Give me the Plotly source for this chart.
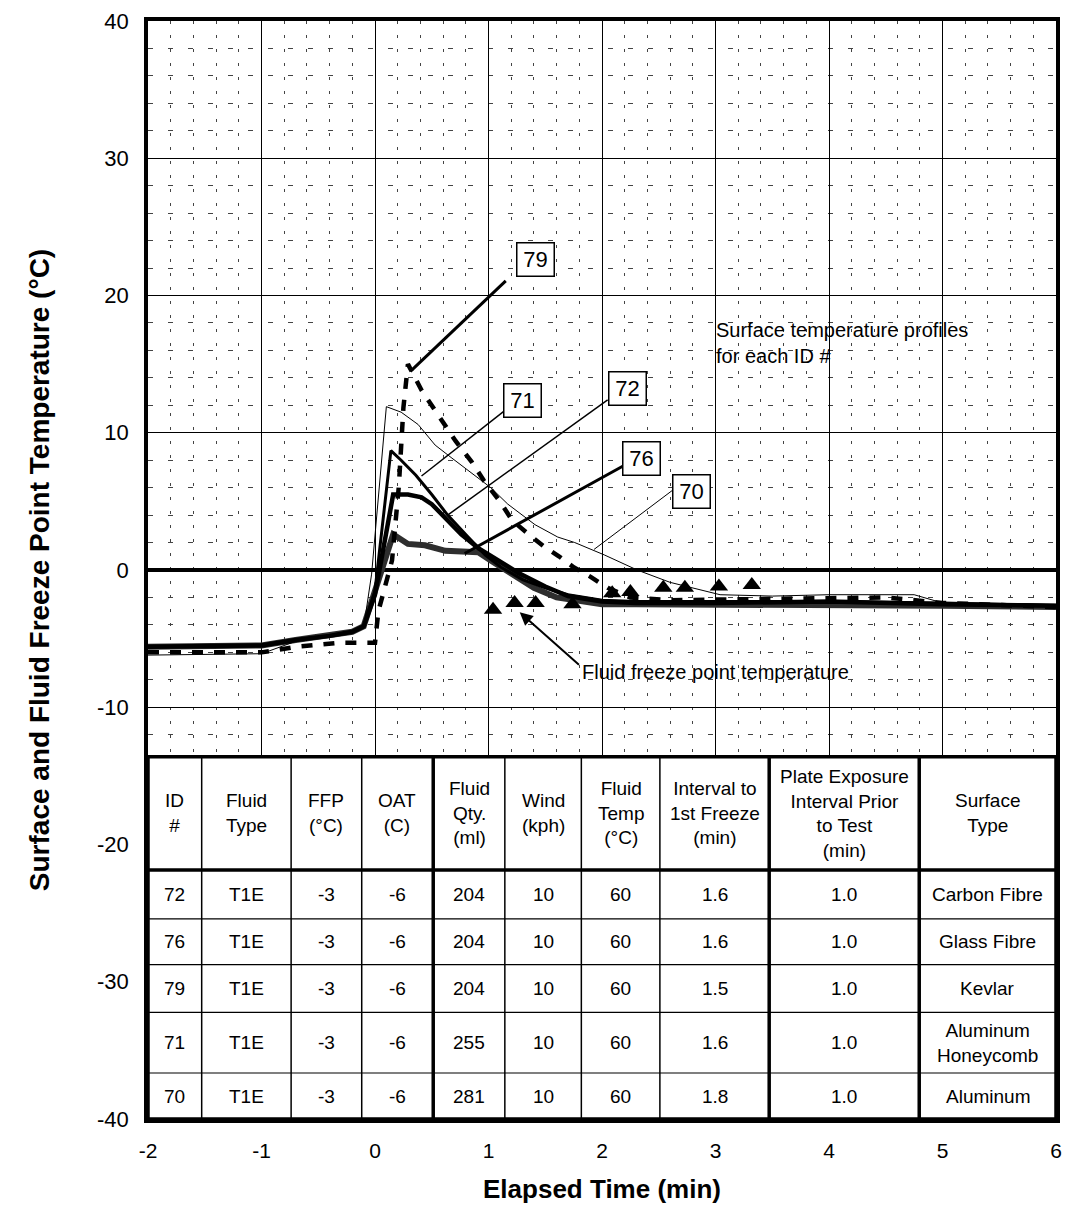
import plotly.graph_objects as go

# Surface temperature profiles (elapsed time in min, temperature in °C)
x76 = [-2, -1.0, -0.7, -0.4, -0.2, -0.1, 0.02, 0.16, 0.29, 0.44, 0.62, 0.79, 0.91, 1.02, 1.2, 1.4, 1.6, 1.8, 2.0, 2.3, 3.0, 4.0, 5.0, 6.0]
y76 = [-5.6, -5.5, -5.1, -4.8, -4.5, -4.1, -1.0, 2.6, 1.9, 1.8, 1.4, 1.3, 1.3, 0.7, -0.3, -1.3, -2.0, -2.3, -2.5, -2.5, -2.5, -2.6, -2.6, -2.7]

x72 = [-2, -1.0, -0.7, -0.4, -0.2, -0.1, 0.0, 0.16, 0.29, 0.41, 0.5, 0.62, 0.76, 0.91, 1.08, 1.26, 1.5, 1.7, 2.0, 2.3, 3.0, 4.0, 5.0, 6.0]
y72 = [-5.6, -5.5, -5.1, -4.8, -4.5, -4.1, -1.8, 5.5, 5.5, 5.3, 4.8, 3.8, 2.6, 1.6, 0.7, -0.2, -1.2, -1.9, -2.3, -2.4, -2.4, -2.3, -2.5, -2.6]

x71 = [-2, -1.0, -0.7, -0.4, -0.2, -0.1, 0.0, 0.14, 0.23, 0.36, 0.5, 0.64, 0.82, 0.97, 1.11, 1.3, 1.5, 1.7, 2.0, 2.3, 3.0, 4.0, 5.0, 6.0]
y71 = [-5.6, -5.5, -5.1, -4.8, -4.5, -4.1, -1.5, 8.7, 8.0, 6.9, 5.5, 4.0, 2.4, 1.1, 0.2, -0.7, -1.3, -1.8, -2.2, -2.3, -2.3, -2.3, -2.4, -2.6]

x70 = [-2, -1.0, -0.7, -0.4, -0.2, -0.1, -0.03, 0.1, 0.23, 0.38, 0.53, 0.67, 0.85, 1.02, 1.17, 1.41, 1.61, 1.76, 2.02, 2.31, 2.6, 2.89, 3.04, 3.5, 4.0, 4.75, 5.0, 6.0]
y70 = [-6.2, -6.1, -5.2, -4.8, -4.5, -4.2, -0.3, 11.9, 11.5, 10.6, 9.1, 8.2, 7.1, 6.0, 4.8, 3.3, 2.4, 2.0, 1.1, 0.0, -0.9, -1.5, -1.8, -1.9, -1.8, -1.8, -2.4, -2.5]

x79 = [-2, -1.0, -0.7, -0.3, 0.0, 0.03, 0.15, 0.21, 0.25, 0.29, 0.41, 0.56, 0.71, 0.85, 0.96, 1.1, 1.21, 1.34, 1.49, 1.62, 1.75, 1.9, 2.05, 2.25, 2.6, 3.5, 4.5, 5.0, 6.0]
y79 = [-6.0, -6.0, -5.6, -5.3, -5.3, -3.0, 0.7, 6.1, 11.8, 15.0, 13.1, 11.2, 9.4, 7.9, 6.5, 5.0, 3.6, 2.7, 1.7, 1.0, 0.2, -0.5, -1.3, -2.0, -2.2, -2.1, -2.0, -2.4, -2.7]

# Fluid freeze point temperature
x_ffp = [1.04, 1.23, 1.415, 1.74, 2.09, 2.25, 2.54, 2.73, 3.03, 3.32]
y_ffp = [-2.9, -2.4, -2.4, -2.5, -1.7, -1.6, -1.3, -1.3, -1.2, -1.1]

# Axis ticks
x_ticks = [-2, -1, 0, 1, 2, 3, 4, 5, 6]
y_ticks = [-40, -30, -20, -10, 0, 10, 20, 30, 40]

# Table
headers = ["ID<br>#", "Fluid<br>Type", "FFP<br>(°C)", "OAT<br>(C)", "Fluid<br>Qty.<br>(ml)", "Wind<br>(kph)",
           "Fluid<br>Temp<br>(°C)", "Interval to<br>1st Freeze<br>(min)",
           "Plate Exposure<br>Interval Prior<br>to Test<br>(min)", "Surface<br>Type"]
ids = ["72", "76", "79", "71", "70"]
fluid_type = ["T1E", "T1E", "T1E", "T1E", "T1E"]
ffp = [-3, -3, -3, -3, -3]
oat = [-6, -6, -6, -6, -6]
qty = [204, 204, 204, 255, 281]
wind = [10, 10, 10, 10, 10]
fluid_temp = [60, 60, 60, 60, 60]
interval = [1.6, 1.6, 1.5, 1.6, 1.8]
exposure = [1.0, 1.0, 1.0, 1.0, 1.0]
surface = ["Carbon Fibre", "Glass Fibre", "Kevlar", "Aluminum<br>Honeycomb", "Aluminum"]

# table geometry (data coordinates)
col_x = [-2, -1.527, -0.739, -0.117, 0.513, 1.144, 1.818, 2.51, 3.473, 4.795, 6.0]
thick_cols = [4, 8, 9]
row_y = [-13.6, -21.86, -25.42, -28.75, -32.23, -36.65, -40]

FONT = "Liberation Sans, Arial, sans-serif"

fig = go.Figure()
fig.add_trace(go.Scatter(x=x76, y=y76, mode="lines", line=dict(color="#2e2e2e", width=6)))
fig.add_trace(go.Scatter(x=x72, y=y72, mode="lines", line=dict(color="black", width=4.5)))
fig.add_trace(go.Scatter(x=x71, y=y71, mode="lines", line=dict(color="black", width=3)))
fig.add_trace(go.Scatter(x=x70, y=y70, mode="lines", line=dict(color="black", width=1)))
fig.add_trace(go.Scatter(x=x79, y=y79, mode="lines", line=dict(color="black", width=4.5, dash="11px,11px")))
fig.add_trace(go.Scatter(x=x_ffp, y=y_ffp, mode="markers",
                         marker=dict(symbol="triangle-up", size=16, color="black")))

# ID labels with leader lines
labels = ["79", "71", "72", "76", "70"]
label_pos = [(1.415, 22.6), (1.301, 12.36), (2.221, 13.23), (2.352, 8.09), (2.79, 5.69)]
leaders = [((1.152, 21.07), (0.312, 14.47), 3),
           ((1.14, 11.6), (0.41, 6.85), 1.5),
           ((2.05, 12.4), (0.64, 4.0), 1.5),
           ((2.19, 7.6), (0.79, 1.2), 3),
           ((2.62, 5.8), (1.93, 1.5), 1)]

shapes = []
for (p0, p1, w) in leaders:
    shapes.append(dict(type="line", xref="x", yref="y", x0=p0[0], y0=p0[1], x1=p1[0], y1=p1[1],
                       line=dict(color="black", width=w)))

annotations = []
for lab, (lx, ly) in zip(labels, label_pos):
    annotations.append(dict(x=lx, y=ly, xref="x", yref="y", text=lab, showarrow=False,
                            font=dict(size=22, family=FONT), bgcolor="white",
                            bordercolor="black", borderwidth=1.5, borderpad=3, width=30, height=26))

annotations.append(dict(x=2.991, y=18.4, xref="x", yref="y", xanchor="left", yanchor="top", align="left",
                        text="Surface temperature profiles<br>for each ID #", showarrow=False,
                        font=dict(size=20, family=FONT)))
annotations.append(dict(x=1.809, y=-7.43, xref="x", yref="y", xanchor="left", yanchor="middle",
                        text="Fluid freeze point temperature", showarrow=False,
                        font=dict(size=20, family=FONT)))
annotations.append(dict(x=1.275, y=-3.08, xref="x", yref="y", ax=1.81, ay=-7.0, axref="x", ayref="y",
                        text="", showarrow=True, arrowhead=2, arrowsize=1.3, arrowwidth=2, arrowcolor="black"))

# table background + grid
shapes.append(dict(type="rect", xref="x", yref="y", x0=col_x[0], x1=col_x[-1], y0=row_y[-1], y1=row_y[0],
                   fillcolor="white", line=dict(width=0), layer="above"))
for i, yy in enumerate(row_y[1:-1]):
    shapes.append(dict(type="line", xref="x", yref="y", x0=col_x[0], x1=col_x[-1], y0=yy, y1=yy,
                       line=dict(color="black", width=3.5 if i == 0 else 1.2), layer="above"))
for i, xx in enumerate(col_x[1:-1], start=1):
    shapes.append(dict(type="line", xref="x", yref="y", x0=xx, x1=xx, y0=row_y[-1], y1=row_y[0],
                       line=dict(color="black", width=3.5 if i in thick_cols else 1.5), layer="above"))
shapes.append(dict(type="rect", xref="x", yref="y", x0=col_x[0], x1=col_x[-1], y0=row_y[-1], y1=row_y[0],
                   line=dict(color="black", width=3.5), layer="above"))

cx = [(a + b) / 2 for a, b in zip(col_x[:-1], col_x[1:])]
for h, xx in zip(headers, cx):
    annotations.append(dict(x=xx, y=(row_y[0] + row_y[1]) / 2, xref="x", yref="y", text=h, showarrow=False,
                            font=dict(size=19, family=FONT)))
rows = zip(ids, fluid_type, ffp, oat, qty, wind, fluid_temp, interval, exposure, surface)
for r, row in enumerate(rows):
    cells = [row[0], row[1], str(row[2]), str(row[3]), str(row[4]), str(row[5]), str(row[6]),
             f"{row[7]:.1f}", f"{row[8]:.1f}", row[9]]
    yy = (row_y[r + 1] + row_y[r + 2]) / 2
    for c, xx in zip(cells, cx):
        annotations.append(dict(x=xx, y=yy, xref="x", yref="y", text=c, showarrow=False,
                                font=dict(size=19, family=FONT)))

fig.update_layout(
    width=1069, height=1207,
    margin=dict(l=148, r=7, t=21, b=83),
    plot_bgcolor="white", paper_bgcolor="white",
    showlegend=False,
    font=dict(family=FONT, color="black"),
    shapes=shapes, annotations=annotations,
)
fig.update_xaxes(range=[-2, 6], tickmode="array", tickvals=x_ticks, ticktext=[str(v) for v in x_ticks],
                 showgrid=True, gridcolor="black", gridwidth=1,
                 showline=True, linewidth=3.5, linecolor="black", mirror=True, zeroline=False,
                 ticks="", tickfont=dict(size=21), ticklabelstandoff=10,
                 title=dict(text="Elapsed Time (min)", font=dict(size=26, weight="bold"), standoff=20),
                 minor=dict(dtick=0.2, tick0=0, showgrid=True, gridcolor="#444", gridwidth=1, griddash="3px,11px"))
fig.update_yaxes(range=[-40, 40], tickmode="array", tickvals=y_ticks, ticktext=[str(v) for v in y_ticks],
                 showgrid=True, gridcolor="black", gridwidth=1,
                 showline=True, linewidth=3.5, linecolor="black", mirror=True,
                 zeroline=True, zerolinewidth=3.5, zerolinecolor="black",
                 ticks="", tickfont=dict(size=22), ticklabelstandoff=11,
                 title=dict(text="Surface and Fluid Freeze Point Temperature (°C)", font=dict(size=28, weight="bold"),
                            standoff=40),
                 minor=dict(dtick=2, tick0=0, showgrid=True, gridcolor="#444", gridwidth=1, griddash="5px,15px"))

# drop the default body margin and scrollbars so the figure fills the window exactly
fig.write_html("out.html", config={"displayModeBar": False},
               post_script="document.body.style.margin='0';document.documentElement.style.overflow='hidden';")
